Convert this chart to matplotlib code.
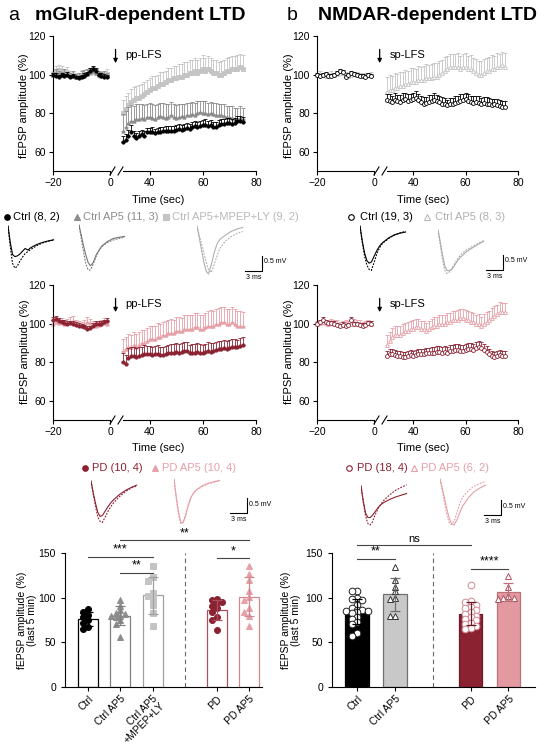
import matplotlib
matplotlib.use('agg')
import matplotlib.pyplot as plt
from matplotlib.lines import Line2D
import numpy as np

plt.rcParams['font.family'] = ['Liberation Sans', 'DejaVu Sans']
plt.rcParams['axes.linewidth'] = 0.8
plt.rcParams['xtick.major.width'] = 0.8
plt.rcParams['ytick.major.width'] = 0.8
plt.rcParams['xtick.major.size'] = 3
plt.rcParams['ytick.major.size'] = 3
plt.rcParams['xtick.labelsize'] = 7.5
plt.rcParams['ytick.labelsize'] = 7.5

BLACK = '#000000'
GRAY = '#8c8c8c'
LGRAY = '#c4c4c4'
DRED = '#8b2232'
PINK = '#e6a0a8'

# ---------------- time course data (mean, sem) ----------------
base_t = list(range(-20, 0))
post_t = list(range(30, 76))

# a: mGluR-LTD, control groups
ctrl_a_mb = [100, 99.5, 99, 100, 99.5, 100, 99, 99.5, 98.5, 98, 99, 99.5, 100.5, 102, 103, 102, 100, 99.5, 99, 99]
ctrl_a_sb = [1.0, 1.2, 1.0, 0.8, 1.0, 1.2, 1.0, 0.9, 1.0, 1.1, 1.0, 1.2, 1.0, 1.4, 1.5, 1.3, 1.0, 1.1, 1.2, 1.0]
ctrl_a_mp = [65, 66, 68, 70, 68, 67, 68, 69, 68, 70, 70, 70, 69.5, 70, 70, 70.5, 71, 70.5, 71, 71, 71.5, 72, 71.5,
             72, 72.5, 72, 73, 73.5, 73, 73.5, 74, 74, 73.5, 74, 73, 73, 74, 74.5, 74.5, 75, 75, 74.5, 75, 76, 76, 75.5]
ctrl_a_sp = [3.0, 3.2, 3.5, 4.0, 3.0, 2.8, 2.6, 2.5, 2.8, 2.4, 2.5, 2.6, 2.4, 2.5, 2.6, 2.4, 2.5, 2.6, 2.5, 2.4, 2.5,
             2.6, 2.4, 2.5, 2.5, 2.6, 2.4, 2.5, 2.6, 2.5, 2.6, 3.0, 2.5, 2.6, 2.4, 2.5, 2.6, 2.5, 2.4, 2.5, 2.6, 2.5,
             2.4, 2.5, 2.6, 2.5]

ap5_a_mb = [100, 101, 100.5, 100, 101, 100, 99.5, 100, 99, 99.5, 100, 100.5, 101, 101.5, 102, 101, 100.5, 100, 100, 99.5]
ap5_a_sb = [1.5, 1.8, 1.6, 1.5, 1.7, 1.5, 1.4, 1.6, 1.5, 1.5, 1.6, 1.8, 1.7, 1.9, 2.0, 1.8, 1.6, 1.5, 1.6, 1.5]
ap5_a_mp = [71, 73, 75, 76, 76, 77, 77, 77.5, 77, 78, 78, 77.5, 77, 78, 78.5, 78, 77.5, 78, 79, 78, 77.5, 78, 78.5,
            78, 79, 79, 79.5, 79, 80, 80.5, 80, 80, 79.5, 80, 79.5, 79, 79, 79, 78.5, 78, 78, 77.5, 77, 77, 77.5, 77]
ap5_a_sp = [8.5, 8.0, 8.2, 8.0, 7.8, 7.5, 7.6, 7.4, 7.2, 7.0, 7.2, 7.0, 7.1, 6.9, 7.0, 7.2, 7.0, 6.8, 6.9, 6.7, 6.8,
            6.6, 6.5, 6.7, 6.4, 6.5, 6.3, 6.4, 6.2, 6.0, 6.2, 6.1, 6.0, 5.9, 6.0, 6.1, 5.8, 5.9, 6.0, 5.8, 5.9, 6.0,
            5.8, 5.9, 6.0, 5.8]

mpep_a_mb = [100, 102, 102.5, 102, 101, 101.5, 100, 99.5, 99, 99, 100, 99.5, 100.5, 101, 101.5, 101, 100, 99.5, 100, 100.5]
mpep_a_sb = [2.0, 2.5, 2.4, 2.2, 2.0, 2.3, 2.1, 2.0, 1.8, 2.0, 2.2, 2.0, 2.1, 2.4, 2.2, 2.0, 2.1, 1.9, 2.0, 2.2]
mpep_a_mp = [80, 82, 84, 86, 87, 88, 88, 89, 90, 91, 92, 93, 93, 94, 95, 95, 96, 97, 97, 98, 98, 99, 99, 100, 100,
             101, 101, 102, 101, 102, 103, 102, 103, 102, 101, 101, 100, 100, 101, 102, 102, 103, 103, 103, 104, 103]
mpep_a_sp = [7.0, 6.8, 6.5, 6.6, 6.4, 6.2, 6.5, 6.3, 6.0, 6.2, 6.4, 6.1, 6.3, 6.0, 6.2, 6.4, 6.1, 6.3, 6.5, 6.2, 6.4,
             6.6, 6.3, 6.5, 6.7, 6.4, 6.6, 6.8, 6.5, 6.7, 6.9, 6.6, 6.8, 6.5, 6.7, 6.4, 6.6, 6.8, 6.5, 6.7, 6.9, 6.6,
             6.8, 7.0, 6.7, 6.9]

# b: NMDAR-LTD, control groups
ctrl_b_mb = [100, 99.5, 100, 100.5, 99.5, 99.5, 100, 101, 102, 101.5, 99, 100, 101, 100.5, 100, 99.5, 99.5, 99, 100, 99.5]
ctrl_b_sb = [0.8, 0.9, 0.8, 1.0, 0.8, 0.9, 0.8, 1.0, 1.1, 0.9, 0.8, 0.9, 1.0, 0.8, 0.9, 0.8, 0.9, 0.8, 0.9, 0.8]
ctrl_b_mp = [87, 86.5, 86, 87, 86.5, 86, 87, 87.5, 86.5, 87, 87.5, 88, 87, 86, 85, 85.5, 86, 86.5, 87, 86.5, 86, 85,
             84.5, 84, 84.5, 85, 85.5, 86, 86.5, 87, 87.5, 86.5, 86, 85.5, 86, 85.5, 85, 85.5, 85, 84.5, 84, 84.5, 84,
             83.5, 83, 83]
ctrl_b_sp = [3.0, 3.2, 3.1, 3.3, 3.0, 3.2, 3.4, 3.1, 3.3, 3.0, 3.2, 3.4, 3.1, 3.0, 3.2, 3.1, 3.3, 3.0, 3.2, 3.1, 3.0,
             3.2, 3.1, 3.0, 3.2, 3.1, 3.3, 3.0, 3.2, 3.1, 3.0, 3.2, 3.1, 3.3, 3.0, 3.2, 3.1, 3.0, 3.2, 3.1, 3.3, 3.0,
             3.2, 3.1, 3.3, 3.1]

ap5_b_mb = [100, 100.5, 100, 99.5, 100, 100.5, 100, 100.5, 101, 101, 100, 99.5, 100, 100.5, 100, 100, 99.5, 99.5, 100, 100]
ap5_b_sb = [1.0, 1.1, 1.0, 1.2, 1.0, 1.1, 1.0, 1.2, 1.1, 1.0, 1.1, 1.0, 1.2, 1.0, 1.1, 1.0, 1.1, 1.2, 1.0, 1.1]
ap5_b_mp = [91, 92, 92, 93, 93, 94, 94, 95, 95, 96, 96, 96, 97, 97, 97, 98, 98, 98, 99, 99, 100, 101, 102, 103, 104,
            104, 104, 104, 103, 104, 104, 103, 103, 102, 101, 100, 100, 101, 102, 102, 103, 103, 104, 104, 105, 104]
ap5_b_sp = [8.0, 7.8, 7.5, 7.6, 7.4, 7.2, 7.5, 7.3, 7.0, 7.2, 7.4, 7.1, 7.3, 7.0, 7.2, 7.4, 7.1, 7.3, 7.0, 7.2, 7.0,
            6.8, 6.9, 6.7, 6.8, 6.6, 6.8, 7.0, 6.7, 6.9, 7.1, 6.8, 7.0, 6.7, 6.9, 7.1, 6.8, 7.0, 6.7, 6.9, 7.1, 6.8,
            7.0, 6.7, 6.9, 7.0]

# a: PD groups
pd_a_mb = [102, 102.5, 101.5, 101, 100.5, 100, 100.5, 100, 99.5, 99, 98.5, 98, 97, 97.5, 99, 100, 100, 100, 101, 101.5]
pd_a_sb = [1.2, 1.4, 1.2, 1.1, 1.3, 1.2, 1.0, 1.2, 1.3, 1.1, 1.2, 1.4, 1.5, 1.3, 1.2, 1.1, 1.3, 1.2, 1.1, 1.2]
pd_a_mp = [80, 79, 82, 83, 83, 82.5, 83, 83.5, 84, 84, 84, 83.5, 84, 84, 83.5, 83.5, 84, 84.5, 85, 85, 85.5, 85,
           85.5, 86, 86, 84.5, 85, 85, 85.5, 85, 84.5, 85.5, 86, 85.5, 86, 86.5, 87, 87, 87.5, 87, 87.5, 88, 88, 88,
           88.5, 89]
pd_a_sp = [5.0, 4.8, 5.2, 5.0, 4.8, 4.6, 4.8, 4.5, 4.7, 4.6, 4.4, 4.6, 4.5, 4.7, 4.4, 4.6, 4.5, 4.3, 4.5, 4.4, 4.6,
           4.3, 4.5, 4.4, 4.2, 4.4, 4.3, 4.5, 4.2, 4.4, 4.3, 4.1, 4.3, 4.2, 4.0, 4.2, 4.1, 3.9, 4.1, 4.0, 3.8, 4.0,
           3.9, 3.7, 3.9, 3.8]

pdap5_a_mb = [100, 101, 100.5, 101, 100, 100.5, 101, 101.5, 100, 99.5, 99, 100, 101, 100.5, 99.5, 99, 99.5, 100, 100.5, 100]
pdap5_a_sb = [2.0, 2.2, 1.8, 2.1, 2.0, 1.9, 2.2, 2.4, 2.0, 1.8, 1.9, 2.0, 2.3, 2.1, 1.9, 1.8, 2.0, 2.1, 2.2, 2.0]
pdap5_a_mp = [86, 87, 88, 88, 89, 88, 89, 90, 90, 91, 92, 92, 92, 93, 93, 94, 94, 95, 95, 95, 96, 96, 96, 97, 97,
              97, 97, 98, 98, 97, 97, 98, 99, 99, 99, 100, 100, 101, 101, 100, 100, 101, 100, 99, 99, 99]
pdap5_a_sp = [6.0, 6.2, 6.4, 6.3, 6.5, 6.6, 6.4, 6.7, 6.8, 6.6, 6.9, 7.0, 6.8, 7.1, 7.0, 6.9, 7.2, 7.1, 7.3, 7.0,
              7.2, 7.4, 7.1, 7.3, 7.5, 7.2, 7.4, 7.6, 7.3, 7.5, 7.7, 7.4, 7.6, 7.8, 7.5, 7.7, 7.9, 7.6, 7.8, 7.5,
              7.7, 7.4, 7.6, 7.3, 7.5, 7.2]

# b: PD groups
pd_b_mb = [100, 101, 102, 101, 100.5, 100.5, 100, 99.5, 99, 99.5, 99, 99.5, 102, 100, 100, 99.5, 99, 99.5, 100.5, 100]
pd_b_sb = [1.0, 1.1, 1.2, 1.0, 0.9, 1.0, 1.1, 0.9, 1.0, 1.1, 0.9, 1.0, 1.3, 1.0, 0.9, 1.0, 1.1, 0.9, 1.0, 1.1]
pd_b_mp = [83, 84, 84, 83.5, 83, 83, 82.5, 82.5, 83, 83.5, 83, 83.5, 84, 84, 84, 84.5, 84.5, 85, 85, 85.5, 85.5, 85,
           85.5, 85, 86, 86, 86.5, 86.5, 86, 86, 86.5, 87, 87, 86.5, 87.5, 88, 87.5, 86.5, 85.5, 84, 83, 82.5, 83,
           83.5, 83, 83]
pd_b_sp = [3.0, 2.9, 2.8, 3.0, 2.9, 2.8, 3.0, 2.9, 2.8, 3.0, 2.9, 2.8, 3.0, 2.9, 2.8, 3.0, 2.9, 2.8, 3.0, 2.9, 2.8,
           3.0, 2.9, 2.8, 3.0, 2.9, 2.8, 3.0, 2.9, 2.8, 3.0, 2.9, 2.8, 3.0, 2.9, 2.8, 3.0, 2.9, 2.8, 3.0, 2.9, 2.8,
           3.0, 2.9, 2.8, 3.0]

pdap5_b_mb = [100, 100.5, 101, 100.5, 100, 101, 100.5, 100, 99.5, 100, 100.5, 100, 100, 101, 100.5, 100, 99.5, 100, 100.5, 100]
pdap5_b_sb = [1.5, 1.6, 1.4, 1.5, 1.7, 1.5, 1.4, 1.6, 1.5, 1.4, 1.6, 1.5, 1.4, 1.6, 1.5, 1.7, 1.5, 1.4, 1.6, 1.5]
pdap5_b_mp = [89, 91, 93, 94, 94, 94, 95, 96, 96, 97, 97, 98, 98, 97, 97, 96, 97, 98, 99, 99, 100, 100, 100, 101,
              101, 102, 102, 102, 103, 103, 102, 102, 101, 101, 100, 100, 99, 100, 101, 102, 103, 104, 105, 106, 106, 106]
pdap5_b_sp = [5.0, 4.8, 4.6, 4.8, 4.5, 4.7, 4.6, 4.4, 4.6, 4.5, 4.7, 4.4, 4.6, 4.5, 4.3, 4.5, 4.4, 4.6, 4.3, 4.5,
              4.4, 4.6, 4.3, 4.5, 4.7, 4.4, 4.6, 4.8, 4.5, 4.7, 4.9, 4.6, 4.8, 4.5, 4.7, 4.9, 4.6, 4.8, 5.0, 4.7,
              4.9, 5.1, 4.8, 5.0, 4.7, 4.9]

# ---------------- bar chart data (last 5 min, %) ----------------
bar_a_labels = ['Ctrl', 'Ctrl AP5', 'Ctrl AP5\n+MPEP+LY', 'PD', 'PD AP5']
a_ctrl = [87, 84, 81, 78, 75, 71.5, 67, 65]
a_ap5 = [97, 91, 86, 83, 82, 80, 79.5, 78, 75, 71, 56.5]
a_mpep = [135, 123, 119, 105, 102, 97, 92, 83, 68]
a_pd = [99, 97, 95.5, 94, 91, 88, 84, 78, 75, 64]
a_pdap5 = [136, 127, 120, 107, 101, 97, 88, 84, 80, 68]

bar_b_labels = ['Ctrl', 'Ctrl AP5', 'PD', 'PD AP5']
b_ctrl = [108, 108, 100, 98, 97, 92, 88, 86, 86, 85, 85, 84, 83, 78, 76, 73, 70, 60, 57]
b_ap5 = [134, 120, 112, 107, 100, 98, 80, 80]
b_pd = [114, 96, 95, 92, 90, 88, 86, 84, 82, 80, 78, 76, 75, 72, 70, 68, 66, 65]
b_pdap5 = [124, 112, 102, 100, 100, 98]

# ---------------- example traces (ms, mV): baseline solid, post-LFS dashed ----------------
trace_t = [0, 0.4, 0.8, 1.2, 1.6, 2.0, 2.5, 3.0, 3.5, 4.0, 5.0, 6.0, 7.0, 8.0]
tr_a_ctrl = ([0, -0.55, -0.95, -1.02, -1.0, -0.95, -0.85, -0.75, -0.8, -0.72, -0.62, -0.55, -0.5, -0.46],
             [0, -0.7, -1.25, -1.4, -1.35, -1.2, -1.05, -0.92, -0.85, -0.78, -0.66, -0.57, -0.51, -0.47])
tr_a_ap5 = ([0, -0.35, -0.7, -1.0, -1.25, -1.36, -1.25, -1.0, -0.85, -0.7, -0.55, -0.45, -0.41, -0.38],
            [0, -0.45, -0.9, -1.3, -1.5, -1.5, -1.3, -1.05, -0.85, -0.72, -0.58, -0.5, -0.45, -0.41])
tr_a_mpep = ([0, -0.4, -0.8, -1.2, -1.5, -1.6, -1.3, -0.9, -0.6, -0.45, -0.3, -0.18, -0.1, -0.05],
             [0, -0.3, -0.6, -0.9, -1.2, -1.45, -1.55, -1.3, -1.0, -0.75, -0.5, -0.35, -0.25, -0.18])
tr_b_ctrl = ([0, -0.5, -0.9, -1.15, -1.24, -1.2, -1.0, -0.8, -0.65, -0.55, -0.4, -0.3, -0.24, -0.2],
             [0, -0.55, -1.0, -1.3, -1.45, -1.48, -1.2, -0.9, -0.7, -0.57, -0.42, -0.3, -0.23, -0.18])
tr_b_ap5 = ([0, -0.4, -0.85, -1.2, -1.35, -1.36, -1.3, -1.15, -1.0, -0.9, -0.72, -0.6, -0.48, -0.38],
            [0, -0.5, -1.0, -1.35, -1.45, -1.4, -1.25, -1.1, -0.95, -0.82, -0.66, -0.55, -0.45, -0.35])
tr_a_pd = ([0, -0.4, -0.75, -1.05, -1.18, -1.15, -1.0, -0.85, -0.72, -0.62, -0.45, -0.32, -0.22, -0.14],
           [0, -0.45, -0.85, -1.2, -1.35, -1.38, -1.2, -1.0, -0.85, -0.72, -0.52, -0.36, -0.24, -0.16])
tr_a_pdap5 = ([0, -0.6, -1.1, -1.45, -1.45, -1.25, -0.9, -0.6, -0.45, -0.35, -0.22, -0.14, -0.09, -0.05],
              [0, -0.65, -1.2, -1.5, -1.45, -1.2, -0.85, -0.6, -0.45, -0.36, -0.25, -0.16, -0.11, -0.06])
tr_b_pd = ([0, -0.5, -0.9, -1.05, -1.05, -0.98, -0.85, -0.72, -0.62, -0.55, -0.45, -0.37, -0.31, -0.25],
           [0, -0.55, -1.0, -1.25, -1.3, -1.2, -0.95, -0.75, -0.6, -0.48, -0.3, -0.15, -0.05, 0.04])
tr_b_pdap5 = ([0, -0.3, -0.65, -1.0, -1.3, -1.48, -1.53, -1.35, -1.1, -0.9, -0.62, -0.42, -0.3, -0.2],
              [0, -0.4, -0.8, -1.2, -1.45, -1.52, -1.4, -1.1, -0.8, -0.6, -0.38, -0.24, -0.15, -0.08])

# ------------------------------------------------------------------
W, H = 550, 750
fig = plt.figure(figsize=(5.5, 7.5), dpi=100)


def box(x0, y0, x1, y1):
    return [x0 / W, 1 - y1 / H, (x1 - x0) / W, (y1 - y0) / H]


def fx(x):
    return x / W


def fy(y):
    return 1 - y / H


def fline(xs, ys, **kw):
    fig.add_artist(Line2D([fx(v) for v in xs], [fy(v) for v in ys], transform=fig.transFigure, **kw))


def time_axes(x0, x1, x2, x3, y0, y1, lfs):
    axl = fig.add_axes(box(x0, y0, x1, y1))
    axr = fig.add_axes(box(x2, y0, x3, y1))
    axl.set_xlim(-20, 0)
    axl.set_xticks([-20, 0])
    axr.set_xlim(30, 80)
    axr.set_xticks([40, 60, 80])
    for ax in (axl, axr):
        ax.set_ylim(50, 120)
        ax.spines[['top', 'right']].set_visible(False)
        ax.tick_params(pad=2)
        ax.patch.set_alpha(0)
    axl.set_yticks([60, 80, 100, 120])
    axr.spines['left'].set_visible(False)
    axr.set_yticks([])
    # axis break marks
    for xc in (x1 + 2.5, x2 - 2.5):
        fline([xc - 2.5, xc + 2.5], [y1 + 4, y1 - 4], color='k', lw=0.8)
    axr.annotate('', xy=(27.2, 104.5), xytext=(27.2, 114.5),
                 arrowprops=dict(arrowstyle='-|>', color='k', lw=0.9, mutation_scale=6),
                 annotation_clip=False)
    axr.text(31, 110, lfs, fontsize=8, va='center', ha='left')
    return axl, axr


def series(axs, mb, sb, mp, sp, marker, face, edge, ms, z):
    for ax, t, m, s in ((axs[0], base_t, mb, sb), (axs[1], post_t, mp, sp)):
        ax.errorbar(t, m, yerr=[np.zeros(len(s)), s], fmt=marker, mfc=face, mec=edge, ms=ms, mew=0.6,
                    ecolor=edge, elinewidth=0.6, capsize=1.3, capthick=0.6, zorder=z, clip_on=False)


def time_labels(xc, yx, xl, yc):
    fig.text(fx(xc), fy(yx), 'Time (sec)', fontsize=8, ha='center', va='center')
    fig.text(fx(xl), fy(yc), 'fEPSP amplitude (%)', fontsize=8, ha='center', va='center', rotation=90)


# ---------- titles ----------
fig.text(fx(8), fy(15), 'a', fontsize=14, va='center')
fig.text(fx(35), fy(15), 'mGluR-dependent LTD', fontsize=14, fontweight='bold', va='center')
fig.text(fx(287), fy(15), 'b', fontsize=14, va='center')
fig.text(fx(318), fy(15), 'NMDAR-dependent LTD', fontsize=14, fontweight='bold', va='center')

# ---------- time courses ----------
ta = time_axes(53, 110, 123, 256, 36, 171, 'pp-LFS')
series(ta, mpep_a_mb, mpep_a_sb, mpep_a_mp, mpep_a_sp, 's', LGRAY, LGRAY, 2.4, 2)
series(ta, ap5_a_mb, ap5_a_sb, ap5_a_mp, ap5_a_sp, '^', GRAY, GRAY, 2.4, 3)
series(ta, ctrl_a_mb, ctrl_a_sb, ctrl_a_mp, ctrl_a_sp, 'o', BLACK, BLACK, 2.4, 4)
time_labels(158, 200, 24, 106)

tb = time_axes(317, 374, 387, 518, 36, 171, 'sp-LFS')
series(tb, ap5_b_mb, ap5_b_sb, ap5_b_mp, ap5_b_sp, '^', 'white', LGRAY, 2.8, 2)
series(tb, ctrl_b_mb, ctrl_b_sb, ctrl_b_mp, ctrl_b_sp, 'o', 'white', BLACK, 2.8, 3)
time_labels(423, 200, 289, 106)

tc = time_axes(53, 110, 123, 256, 285, 420, 'pp-LFS')
series(tc, pdap5_a_mb, pdap5_a_sb, pdap5_a_mp, pdap5_a_sp, '^', PINK, PINK, 2.4, 2)
series(tc, pd_a_mb, pd_a_sb, pd_a_mp, pd_a_sp, 'o', DRED, DRED, 2.4, 3)
time_labels(158, 448, 25, 352)

td = time_axes(317, 374, 387, 518, 285, 420, 'sp-LFS')
series(td, pdap5_b_mb, pdap5_b_sb, pdap5_b_mp, pdap5_b_sp, '^', 'white', PINK, 2.8, 2)
series(td, pd_b_mb, pd_b_sb, pd_b_mp, pd_b_sp, 'o', 'white', DRED, 2.8, 3)
time_labels(423, 448, 289, 352)


# ---------- legends ----------
def legend_item(xm, xt, y, marker, face, edge, label, color):
    fig.add_artist(Line2D([fx(xm)], [fy(y)], marker=marker, mfc=face, mec=edge, ms=4, mew=0.8,
                          ls='none', transform=fig.transFigure))
    fig.text(fx(xt), fy(y), label, color=color, fontsize=8, va='center', ha='left')


legend_item(7, 13, 217, 'o', BLACK, BLACK, 'Ctrl (8, 2)', BLACK)
legend_item(77, 83, 217, '^', GRAY, GRAY, 'Ctrl AP5 (11, 3)', GRAY)
legend_item(166, 172, 217, 's', LGRAY, LGRAY, 'Ctrl AP5+MPEP+LY (9, 2)', '#b8b8b8')
legend_item(351, 360, 217, 'o', 'white', BLACK, 'Ctrl (19, 3)', BLACK)
legend_item(427, 435, 217, '^', 'white', '#b8b8b8', 'Ctrl AP5 (8, 3)', '#b0b0b0')
legend_item(85, 92, 468, 'o', DRED, DRED, 'PD (10, 4)', DRED)
legend_item(155, 162, 468, '^', PINK, PINK, 'PD AP5 (10, 4)', PINK)
legend_item(349, 357, 468, 'o', 'white', DRED, 'PD (18, 4)', DRED)
legend_item(414, 421, 468, '^', 'white', PINK, 'PD AP5 (6, 2)', PINK)

# ---------- example traces ----------
PX_MS, PX_MV = 5.7, 30.0


def trace(x, y, tr, color):
    ax = fig.add_axes(box(x, y - 0.2 * PX_MV, x + 8.2 * PX_MS, y + 1.7 * PX_MV))
    ax.set_xlim(0, 8.2)
    ax.set_ylim(-1.7, 0.2)
    ax.axis('off')
    ax.plot(trace_t, tr[0], color=color, lw=0.8)
    ax.plot(trace_t, tr[1], color=color, lw=0.8, ls=(0, (1.6, 1.2)))


def scale_bar(x, y):
    ax = fig.add_axes(box(x, y - 0.5 * PX_MV, x + 3 * PX_MS, y))
    ax.set_xlim(0, 3)
    ax.set_ylim(0, 0.5)
    ax.axis('off')
    ax.plot([0, 3, 3], [0, 0, 0.5], color='k', lw=0.8, clip_on=False)
    ax.text(3.35, 0.3, '0.5 mV', fontsize=5, va='center', ha='left')
    ax.text(1.5, -0.1, '3 ms', fontsize=5, va='top', ha='center')


trace(8, 226, tr_a_ctrl, BLACK)
trace(79, 225, tr_a_ap5, '#777777')
trace(197, 226, tr_a_mpep, '#b0b0b0')
scale_bar(245, 271)
trace(360, 226, tr_b_ctrl, BLACK)
trace(438, 230, tr_b_ap5, '#aaaaaa')
scale_bar(486, 270)
trace(91, 481, tr_a_pd, DRED)
trace(174, 479, tr_a_pdap5, PINK)
scale_bar(230, 513)
trace(361, 486, tr_b_pd, DRED)
trace(440, 479, tr_b_pdap5, PINK)
scale_bar(484, 515)


# ---------- bar charts ----------
def spread(vals, dx, dy, kmax=2):
    order = np.argsort(vals)[::-1]
    offs = np.zeros(len(vals))
    placed = []
    steps = [0]
    for k in range(1, kmax + 1):
        steps += [-k, k]
    for i in order:
        best, best_n = 0, None
        for k in steps:
            cand = k * dx
            n = sum(1 for j in placed if abs(cand - offs[j]) < dx * 0.99 and abs(vals[i] - vals[j]) < dy)
            if n == 0:
                best = cand
                best_n = 0
                break
            if best_n is None or n < best_n:
                best, best_n = cand, n
        offs[i] = best
        placed.append(i)
    return offs


def bar_group(ax, pos, vals, face, edge, marker, pface, pedge, ms, dx, dy):
    vals = np.asarray(vals, dtype=float)
    m = vals.mean()
    sd = vals.std(ddof=1)
    ax.bar(pos, m, width=0.62, color=face, edgecolor=edge, linewidth=0.9, zorder=1)
    ax.plot(pos + spread(vals, dx, dy), vals, ls='none', marker=marker, mfc=pface, mec=pedge, ms=ms,
            mew=0.7, zorder=3, clip_on=False)
    ax.errorbar(pos, m, yerr=sd, color=edge, lw=0.9, capsize=3.5, capthick=0.9, zorder=4)


def sig(ax, x0, x1, y, txt, fs=9):
    ax.plot([x0, x1], [y, y], color='#444444', lw=0.8, clip_on=False)
    ax.text((x0 + x1) / 2, y + 1.5, txt, ha='center', va='bottom', fontsize=fs, clip_on=False)


def bar_axes(x0, x1, xlim, pos, labels, sep):
    ax = fig.add_axes(box(x0, 553, x1, 687))
    ax.set_xlim(*xlim)
    ax.set_ylim(0, 150)
    ax.set_yticks([0, 50, 100, 150])
    ax.set_xticks(pos)
    ax.set_xticklabels(labels, rotation=45, ha='right', rotation_mode='anchor', fontsize=7.5,
                       linespacing=1.0)
    ax.tick_params(axis='x', pad=2)
    ax.spines[['top', 'right']].set_visible(False)
    ax.axvline(sep, color='#666666', lw=0.8, ls=(0, (4, 3)), zorder=0)
    ax.patch.set_alpha(0)
    return ax


pa = [0, 1, 2, 4, 5]
axa = bar_axes(65, 262, (-0.72, 5.4), pa, bar_a_labels, 3)
bar_group(axa, pa[0], a_ctrl, 'white', BLACK, 'o', BLACK, BLACK, 4.3, 0.15, 5)
bar_group(axa, pa[1], a_ap5, 'white', '#808080', '^', GRAY, GRAY, 4.3, 0.15, 5)
bar_group(axa, pa[2], a_mpep, 'white', '#a0a0a0', 's', LGRAY, LGRAY, 4.0, 0.15, 5)
bar_group(axa, pa[3], a_pd, 'white', '#a8505e', 'o', DRED, DRED, 4.3, 0.15, 5)
bar_group(axa, pa[4], a_pdap5, 'white', '#d08890', '^', PINK, PINK, 4.3, 0.15, 5)
sig(axa, 0, 2, 146, '***')
sig(axa, 1, 2, 128, '**')
sig(axa, 4, 5, 144, '*')
sig(axa, 1, 5, 164, '**')
fig.text(fx(27), fy(620), 'fEPSP amplitude (%)\n(last 5 min)', fontsize=7.5, ha='center', va='center',
         rotation=90, multialignment='center', linespacing=1.1)

pb = [0, 1, 3, 4]
axb = bar_axes(332, 535, (-0.66, 4.7), pb, bar_b_labels, 2)
bar_group(axb, pb[0], b_ctrl, BLACK, BLACK, 'o', 'white', '#222222', 4.8, 0.14, 5)
bar_group(axb, pb[1], b_ap5, '#c8c8c8', '#707070', '^', 'white', '#333333', 4.8, 0.14, 5)
bar_group(axb, pb[2], b_pd, DRED, '#6b1a26', 'o', 'white', '#d08890', 4.8, 0.14, 5)
bar_group(axb, pb[3], b_pdap5, '#e29aa0', '#c0707a', '^', 'white', '#b05060', 4.8, 0.14, 5)
sig(axb, 0, 1, 143, '**')
sig(axb, 3, 4, 132, '****')
sig(axb, 0, 3, 159, 'ns', fs=8)
fig.text(fx(291), fy(620), 'fEPSP amplitude (%)\n(last 5 min)', fontsize=7.5, ha='center', va='center',
         rotation=90, multialignment='center', linespacing=1.1)

fig.savefig('out.png', dpi=100)
